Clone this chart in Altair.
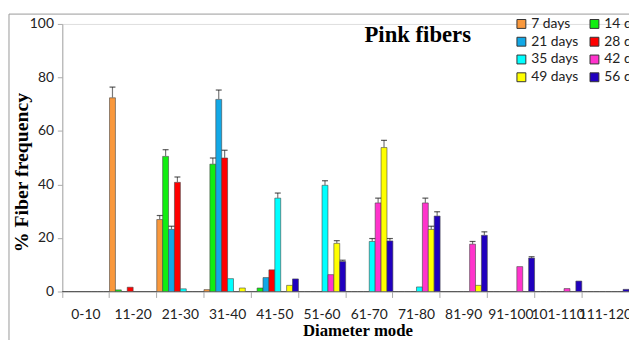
import altair as alt
import pandas as pd

categories = ["0-10", "11-20", "21-30", "31-40", "41-50", "51-60", "61-70",
              "71-80", "81-90", "91-100", "101-110", "111-120"]
series = ["7 days", "14 days", "21 days", "28 days", "35 days", "42 days", "49 days", "56 days"]
colors = ["#F9983C", "#11EE11", "#12A8E6", "#FF0000", "#00FFFF", "#FF33CC", "#FFFF00", "#2000BE"]

d7  = [0, 72.4, 26.9, 0.7, 0, 0, 0, 0, 0, 0, 0, 0]
d14 = [0, 0.6, 50.5, 47.6, 1.3, 0, 0, 0, 0, 0, 0, 0]
d21 = [0, 0, 23.2, 71.8, 5.2, 0, 0, 0, 0, 0, 0, 0]
d28 = [0, 1.6, 40.8, 49.9, 8.1, 0, 0, 0, 0, 0, 0, 0]
d35 = [0, 0, 1.0, 4.8, 34.9, 39.7, 18.7, 1.7, 0, 0, 0, 0]
d42 = [0, 0, 0, 0, 0, 6.3, 33.1, 33.1, 17.7, 9.3, 1.1, 0]
d49 = [0, 0, 0, 1.3, 2.3, 18.0, 53.8, 23.2, 2.3, 0, 0, 0]
d56 = [0, 0, 0, 0, 4.7, 11.2, 18.9, 28.2, 21.0, 12.5, 3.9, 0.8]

e7  = [0, 4.0, 1.5, 0, 0, 0, 0, 0, 0, 0, 0, 0]
e14 = [0, 0, 2.5, 2.3, 0, 0, 0, 0, 0, 0, 0, 0]
e21 = [0, 0, 1.2, 3.5, 0, 0, 0, 0, 0, 0, 0, 0]
e28 = [0, 0, 2.0, 2.9, 0, 0, 0, 0, 0, 0, 0, 0]
e35 = [0, 0, 0, 0, 1.9, 1.7, 1.1, 0, 0, 0, 0, 0]
e42 = [0, 0, 0, 0, 0, 0, 1.8, 1.8, 1.0, 0, 0, 0]
e49 = [0, 0, 0, 0, 0, 1.0, 2.7, 1.2, 0, 0, 0, 0]
e56 = [0, 0, 0, 0, 0, 0.5, 0.9, 1.6, 1.3, 0.5, 0, 0]

values = [d7, d14, d21, d28, d35, d42, d49, d56]
errors = [e7, e14, e21, e28, e35, e42, e49, e56]

rows = []
for s, vals, errs in zip(series, values, errors):
    for c, v, e in zip(categories, vals, errs):
        rows.append({"cat": c, "series": s, "value": v, "err": e, "top": v + e})
df = pd.DataFrame(rows)

W = 574
H = 271

x_enc = alt.X("cat:N", sort=categories,
              scale=alt.Scale(domain=categories, paddingInner=0, paddingOuter=0),
              axis=alt.Axis(title="Diameter mode", labelAngle=0, bandPosition=0,
                            labelOverlap=False,
                            labelFont="Lato", labelFontSize=14, labelColor="#222",
                            labelPadding=10, tickSize=6, tickColor="#aaa",
                            domainColor="#aaa", titleFont="Liberation Serif",
                            titleFontSize=17, titleFontWeight="bold", titleColor="#000",
                            titlePadding=2, titleX=299, titleAlign="center"))
xoff = alt.XOffset("series:N", sort=series,
                   scale=alt.Scale(domain=series, paddingInner=0, paddingOuter=0))
y_scale = alt.Scale(domain=[0, 100], nice=False)

bars = alt.Chart(df).mark_bar(stroke="#444", strokeWidth=0.6).encode(
    x=x_enc,
    xOffset=xoff,
    y=alt.Y("value:Q", scale=y_scale,
            axis=alt.Axis(title="% Fiber frequency", values=[0, 20, 40, 60, 80, 100],
                          grid=False, labelFont="Lato", labelFontSize=14,
                          labelColor="#222", tickSize=5, tickColor="#aaa",
                          domainColor="#aaa", labelPadding=4,
                          titleFont="Liberation Serif", titleFontSize=20,
                          titleFontWeight="bold", titleColor="#000",
                          titleX=-41, titleY=150, titleAngle=270,
                          titleAlign="center", titleBaseline="middle")),
    fill=alt.Color("series:N", sort=series,
                   scale=alt.Scale(domain=series, range=colors),
                   legend=alt.Legend(title=None, orient="none", legendX=458, legendY=-7,
                                     columns=2, direction="horizontal",
                                     symbolType="square", symbolSize=81,
                                     symbolStrokeColor="#333", symbolStrokeWidth=1,
                                     labelFont="Lato", labelFontSize=14,
                                     labelColor="#222", labelOffset=3,
                                     columnPadding=9, rowPadding=4, padding=0)),
)

errdf = df[df["err"] > 0]
err_rule = alt.Chart(errdf).mark_rule(color="#777", strokeWidth=1.2).encode(
    x=alt.X("cat:N", sort=categories), xOffset=xoff,
    y=alt.Y("value:Q", scale=y_scale), y2="top:Q")
err_cap = alt.Chart(errdf).mark_tick(color="#111", size=6, thickness=1.2, orient="horizontal").encode(
    x=alt.X("cat:N", sort=categories), xOffset=xoff,
    y=alt.Y("top:Q", scale=y_scale))

title = alt.Chart(pd.DataFrame({"t": ["Pink fibers"]})).mark_text(
    font="Liberation Serif", fontSize=23, fontWeight="bold", color="#000",
    align="center", baseline="alphabetic").encode(
    text="t:N", x=alt.value(360), y=alt.value(18))

frame_h = alt.Chart(pd.DataFrame({"a": [0]})).mark_rule(color="#999", strokeWidth=1).encode(
    x=alt.value(-54), x2=alt.value(640), y=alt.value(-10))
frame_v = alt.Chart(pd.DataFrame({"a": [0]})).mark_rule(color="#999", strokeWidth=1).encode(
    x=alt.value(-54), y=alt.value(-10), y2=alt.value(330))

chart = alt.layer(bars, err_rule, err_cap, title, frame_h, frame_v).properties(
    width=W, height=H,
    autosize=alt.AutoSizeParams(type="none"),
    padding={"left": 55, "top": 14, "right": 0, "bottom": 50},
).configure_view(stroke=None).configure(background="white")

chart.save("out.html", embed_options={"renderer": "svg", "actions": False})
